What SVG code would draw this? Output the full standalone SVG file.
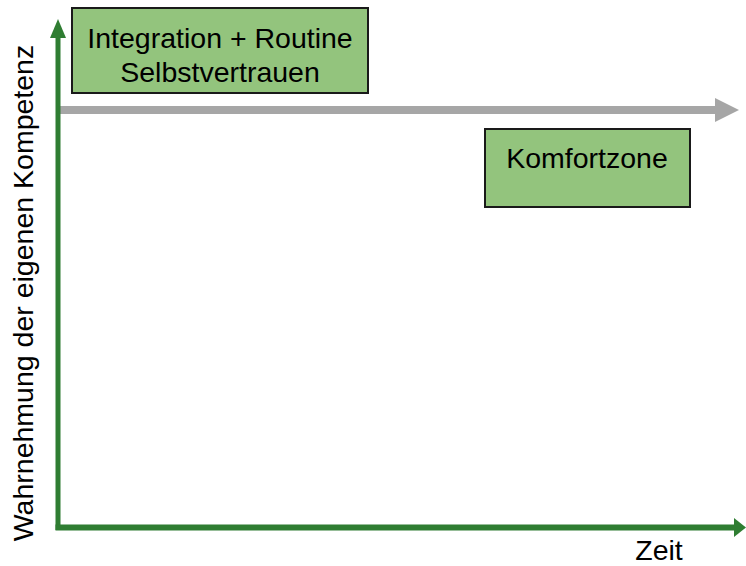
<svg xmlns="http://www.w3.org/2000/svg" width="746" height="566" viewBox="0 0 746 566">
  <style>
    .box { fill: #93C47D; stroke: #1a1a1a; stroke-width: 2; }
    .lbl { font-family: "Liberation Sans", Arial, sans-serif; font-size: 28.5px; fill: #000; text-anchor: middle; }
    .axis { stroke: #2F7D32; fill: none; }
    .axhead { fill: #2F7D32; }
  </style>
  <rect width="746" height="566" fill="#fff"/>

  <g id="connectors">
    <!-- time line (grey) -->
    <line x1="58" y1="110" x2="716" y2="110" stroke="#A6A6A6" stroke-width="8"/>
    <polygon points="715,98 739,110 715,122" fill="#A6A6A6"/>
    <!-- y axis -->
    <line class="axis" x1="58" y1="530" x2="58" y2="36" stroke-width="5"/>
    <polygon class="axhead" points="50,38 58,19 66,38"/>
    <!-- x axis -->
    <line class="axis" x1="55.5" y1="527.5" x2="736" y2="527.5" stroke-width="6"/>
    <polygon class="axhead" points="734,518 746,527.5 734,537"/>
  </g>

  <g id="node-integration">
    <rect class="box" x="72" y="8" width="296" height="85"/>
    <text class="lbl" x="220" y="48">Integration + Routine</text>
    <text class="lbl" x="220" y="82">Selbstvertrauen</text>
  </g>

  <g id="node-komfortzone">
    <rect class="box" x="485" y="129" width="205" height="78"/>
    <text class="lbl" x="587" y="168">Komfortzone</text>
  </g>

  <g id="axis-labels">
    <text class="lbl" x="659" y="560">Zeit</text>
    <text class="lbl" transform="translate(33,293) rotate(-90)" x="0" y="0">Wahrnehmung der eigenen Kompetenz</text>
  </g>
</svg>
